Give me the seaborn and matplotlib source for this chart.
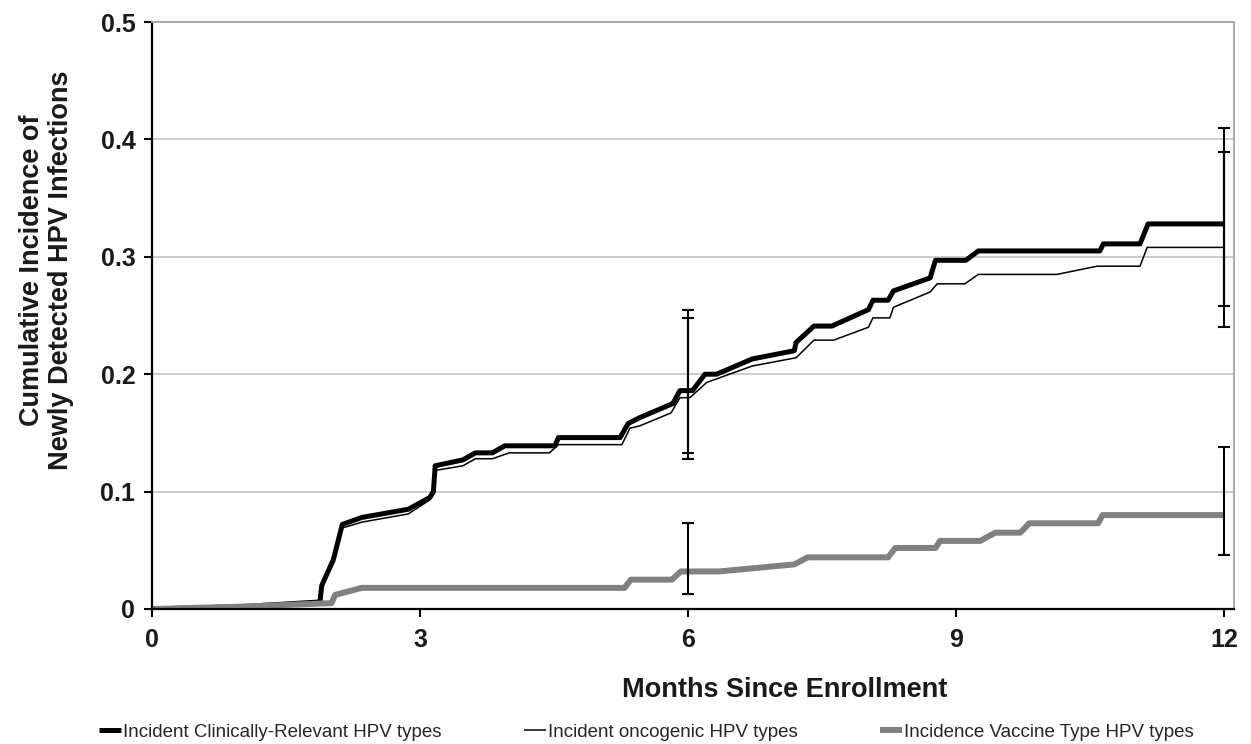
import matplotlib
matplotlib.use("Agg")
import matplotlib.pyplot as plt
import seaborn as sns
import pandas as pd
import numpy as np

# ---- data ----
clin_months = [0, 1.0, 1.88, 1.90, 2.03, 2.13, 2.35, 2.87, 3.11, 3.15, 3.17, 3.48, 3.62, 3.81,
               3.95, 4.51, 4.55, 5.24, 5.33, 5.46, 5.83, 5.91, 6.05, 6.19, 6.32, 6.72, 7.19,
               7.21, 7.41, 7.61, 8.02, 8.07, 8.24, 8.30, 8.71, 8.77, 9.11, 9.25, 10.61, 10.65,
               11.06, 11.15, 12.0]
clin_values = [0, 0.002, 0.006, 0.020, 0.042, 0.072, 0.078, 0.085, 0.095, 0.100, 0.122, 0.127,
               0.133, 0.133, 0.139, 0.139, 0.146, 0.146, 0.158, 0.163, 0.175, 0.186, 0.186,
               0.200, 0.200, 0.213, 0.220, 0.227, 0.241, 0.241, 0.255, 0.263, 0.263, 0.271,
               0.282, 0.297, 0.297, 0.305, 0.305, 0.311, 0.311, 0.328, 0.328]

onco_months = [0, 1.0, 1.88, 1.90, 2.03, 2.13, 2.35, 2.87, 3.11, 3.15, 3.17, 3.48, 3.62, 3.81,
               4.00, 4.45, 4.55, 5.26, 5.35, 5.46, 5.81, 5.91, 6.02, 6.21, 6.72, 7.21, 7.41,
               7.63, 8.02, 8.07, 8.26, 8.30, 8.71, 8.79, 9.10, 9.25, 10.13, 10.58, 11.06,
               11.14, 12.0]
onco_values = [0, 0.002, 0.006, 0.020, 0.040, 0.069, 0.074, 0.081, 0.093, 0.097, 0.118, 0.122,
               0.128, 0.128, 0.133, 0.133, 0.140, 0.140, 0.154, 0.156, 0.167, 0.180, 0.180,
               0.193, 0.207, 0.214, 0.229, 0.229, 0.240, 0.248, 0.248, 0.257, 0.270, 0.277,
               0.277, 0.285, 0.285, 0.292, 0.292, 0.308, 0.308]

vacc_months = [0, 1.0, 2.01, 2.05, 2.35, 5.29, 5.36, 5.82, 5.92, 6.35, 7.19, 7.34, 8.24, 8.32,
               8.77, 8.82, 9.27, 9.44, 9.72, 9.82, 10.59, 10.64, 12.0]
vacc_values = [0, 0.002, 0.005, 0.012, 0.018, 0.018, 0.025, 0.025, 0.032, 0.032, 0.038, 0.044,
               0.044, 0.052, 0.052, 0.058, 0.058, 0.065, 0.065, 0.073, 0.073, 0.080, 0.080]

# error bars (month, estimate, lower, upper)
err_months = [6, 6, 6, 12, 12, 12]
err_values = [0.186, 0.180, 0.032, 0.328, 0.308, 0.080]
err_lower = [0.128, 0.133, 0.013, 0.240, 0.258, 0.046]
err_upper = [0.255, 0.248, 0.073, 0.410, 0.389, 0.138]

series_names = ["Incident Clinically-Relevant HPV types",
                "Incident oncogenic HPV types",
                "Incidence Vaccine Type HPV types"]
x_ticks = [0, 3, 6, 9, 12]
y_ticks = [0, 0.1, 0.2, 0.3, 0.4, 0.5]
y_tick_labels = ["0", "0.1", "0.2", "0.3", "0.4", "0.5"]

# ---- figure ----
sns.set_theme(style="white")
plt.rcParams['font.family'] = ['Liberation Sans', 'DejaVu Sans']

fig = plt.figure(figsize=(12.51, 7.44), dpi=100)
ax = fig.add_axes([152/1251, 1-609/744, (1234-152)/1251, (609-22)/744])

styles = [
    dict(color="black", linewidth=3.6),
    dict(color="black", linewidth=1.1),
    dict(color="#808080", linewidth=4.3),
]
datasets = [(clin_months, clin_values), (onco_months, onco_values), (vacc_months, vacc_values)]
for name, (mx, my), st in zip(series_names, datasets, styles):
    df = pd.DataFrame({"month": mx, "value": my})
    sns.lineplot(data=df, x="month", y="value", ax=ax, estimator=None, sort=False,
                 label=name, solid_capstyle="butt", solid_joinstyle="round", **st)

ev = np.array(err_values)
yerr = np.vstack([ev - np.array(err_lower), np.array(err_upper) - ev])
ax.errorbar(err_months, err_values, yerr=yerr, fmt="none", ecolor="black",
            elinewidth=1.5, capsize=4, capthick=1.5, zorder=5)

ax.set_xlim(0, 12.112)
ax.set_ylim(0, 0.5)
ax.set_xticks(x_ticks)
ax.set_xticklabels([str(t) for t in x_ticks])
ax.set_yticks(y_ticks)
ax.set_yticklabels(y_tick_labels)
for lab in ax.get_xticklabels() + ax.get_yticklabels():
    lab.set_fontweight("bold")
    lab.set_fontsize(18)
    lab.set_color("#1a1a1a")
ax.tick_params(axis="both", direction="out", length=6, width=1.5, color="black",
               bottom=True, left=True, pad=6)
ax.tick_params(axis="x", pad=8)

ax.yaxis.grid(True, color="#c4c4c4", linewidth=1.2)
ax.xaxis.grid(False)
ax.set_axisbelow(True)

for side in ["left", "bottom"]:
    ax.spines[side].set_color("black")
    ax.spines[side].set_linewidth(1.6)
for side in ["top", "right"]:
    ax.spines[side].set_color("#a8a8a8")
    ax.spines[side].set_linewidth(1.4)

ax.set_xlabel("Months Since Enrollment", fontsize=19.5, fontweight="bold", color="#1a1a1a")
ax.set_ylabel("Cumulative Incidence of\nNewly Detected HPV Infections", fontsize=19.5,
              fontweight="bold", color="#1a1a1a", linespacing=1.15)
ax.xaxis.set_label_coords(0.585, -0.115)
ax.yaxis.set_label_coords(-0.072, 0.577)

ax.get_legend().remove()
handles, labels = ax.get_legend_handles_labels()
fig.legend(handles[:3], labels[:3], loc="center", bbox_to_anchor=(0.5168, 0.016), ncol=3,
           frameon=False, fontsize=13.5, handlelength=1.15, handletextpad=0.12,
           columnspacing=4.4, borderaxespad=0)

fig.savefig("out.png", dpi=100)
